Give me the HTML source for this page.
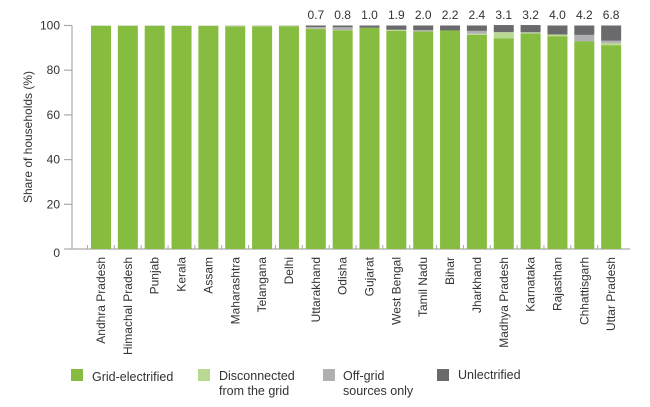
<!DOCTYPE html>
<html><head><meta charset="utf-8">
<style>
body{margin:0;background:#fff;font-family:"Liberation Sans",sans-serif;}
svg text{font-family:"Liberation Sans",sans-serif;fill:#333;}
</style></head>
<body>
<svg width="650" height="402" viewBox="0 0 650 402">
<g id="axes"></g>
<g id="bars"></g>
<g id="labels"></g>
<g>
  <rect x="71" y="369" width="12" height="12" fill="#86bc3f"/>
  <text x="92" y="381" font-size="12.5">Grid-electrified</text>
  <rect x="198" y="369" width="12" height="12" fill="#b9d891"/>
  <text x="219" y="380" font-size="12.5">Disconnected</text>
  <text x="219" y="395" font-size="12.5">from the grid</text>
  <rect x="323" y="369" width="12" height="12" fill="#b0b0b2"/>
  <text x="343" y="380" font-size="12.5">Off-grid</text>
  <text x="343" y="395" font-size="12.5">sources only</text>
  <rect x="437" y="369" width="12" height="12" fill="#6a6a6d"/>
  <text x="458" y="379" font-size="12.5">Unlectrified</text>
</g>
</svg>
<script>
const categories=["Andhra Pradesh","Himachal Pradesh","Punjab","Kerala","Assam","Maharashtra","Telangana","Delhi","Uttarakhand","Odisha","Gujarat","West Bengal","Tamil Nadu","Bihar","Jharkhand","Madhya Pradesh","Karnataka","Rajasthan","Chhattisgarh","Uttar Pradesh"];
const gridElectrified=[99.9,99.9,99.9,99.8,99.8,99.6,99.6,99.7,98.4,97.9,99.0,97.6,97.4,97.8,95.8,94.2,96.4,95.2,93.0,91.2];
const disconnected=[0,0,0,0.1,0.1,0.2,0.2,0.1,0.2,0.1,0,0.5,0,0,0.5,2.7,0.4,0.8,0,1.0];
const offGrid=[0.1,0.1,0.1,0.1,0.1,0.2,0.2,0.2,0.7,1.2,0,0,0.6,0,1.3,0.2,0.2,0,2.8,1.0];
const unelectrified=[0,0,0,0,0,0,0,0,0.7,0.8,1.0,1.9,2.0,2.2,2.4,3.1,3.2,4.0,4.2,6.8];
const topLabels=["","","","","","","","","0.7","0.8","1.0","1.9","2.0","2.2","2.4","3.1","3.2","4.0","4.2","6.8"];
const yTicks=[0,20,40,60,80,100];

const NS="http://www.w3.org/2000/svg";
const X0=72,Y0=249,Y100=25.5,PITCH=26.85,BW=20,FIRST=91;
const y=v=>Y0-(v/100)*(Y0-Y100);
const xb=i=>FIRST+i*PITCH;
function mk(tag,attrs,parent){const e=document.createElementNS(NS,tag);for(const k in attrs)e.setAttribute(k,attrs[k]);parent.appendChild(e);return e;}
const axes=document.getElementById('axes'),bars=document.getElementById('bars'),labels=document.getElementById('labels');

const yl=mk('line',{x1:X0,y1:Y100,x2:X0,y2:Y0,stroke:'#aaa','stroke-width':1.2},axes);


const xl=mk('line',{x1:X0,y1:Y0,x2:630,y2:Y0,stroke:'#aaa','stroke-width':1.2},axes);


yTicks.forEach(t=>{
  const l=mk('line',{x1:X0-8,y1:y(t),x2:X0,y2:y(t),stroke:'#aaa','stroke-width':1.2},axes);
  
  
  const tx=mk('text',{x:X0-12,y:y(t)+(t===0?8:4),'font-size':12,'text-anchor':'end'},axes);
  tx.textContent=t;
  
  
});
categories.forEach((c,i)=>{
  const tk=mk('line',{x1:xb(i)-3.5,y1:Y0,x2:xb(i)-3.5,y2:Y0-4,stroke:'#aaa','stroke-width':1},axes);
  
  
});
const yt=mk('text',{x:0,y:0,'font-size':12,'text-anchor':'middle',transform:'translate(32,137) rotate(-90)'},axes);
yt.textContent='Share of households (%)';



const series=[[gridElectrified,'#86bc3f','grid'],[disconnected,'#b9d891','disconnected'],[offGrid,'#b0b0b2','offgrid'],[unelectrified,'#6a6a6d','unelectrified']];
categories.forEach((c,i)=>{
  let acc=0;
  series.forEach(([arr,col,nm])=>{
    const v=arr[i];
    if(v>0){
      const r=mk('rect',{x:xb(i),y:y(acc+v),width:BW,height:y(acc)-y(acc+v),fill:col},bars);
      
      
    }
    acc+=v;
  });
  const cx=xb(i)+BW/2;
  const lt=mk('text',{x:0,y:0,'font-size':12,'text-anchor':'end',transform:`translate(${cx+4},${Y0+8}) rotate(-90)`},labels);
  lt.textContent=c;
  
  
  if(topLabels[i]){
    const vt=mk('text',{x:cx,y:19,'font-size':12,'text-anchor':'middle'},labels);
    vt.textContent=topLabels[i];
    
    
  }
});
</script>
</body></html>
